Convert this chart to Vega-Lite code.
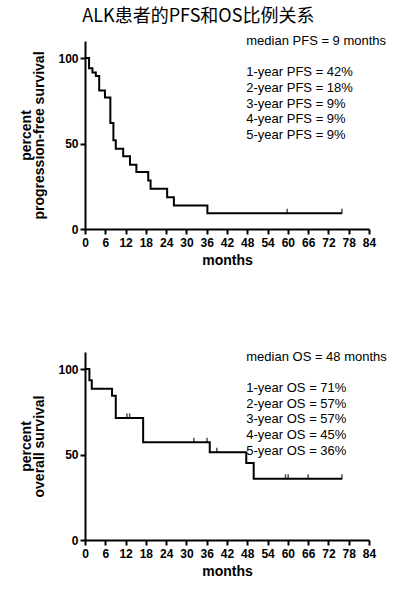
{
  "$schema": "https://vega.github.io/schema/vega-lite/v6.json",
  "description": "ALK patients PFS and OS Kaplan-Meier curves",
  "padding": {"left": 19, "top": 8, "right": 5, "bottom": 5},
  "title": {
    "text": "ALK患者的PFS和OS比例关系",
    "font": "Noto Sans CJK SC",
    "fontSize": 18,
    "fontWeight": "normal",
    "color": "black",
    "anchor": "middle",
    "dx": -5,
    "offset": 9
  },
  "datasets": {
    "pfs": [
      {"month": 0, "pct": 100},
      {"month": 1.2, "pct": 94},
      {"month": 2.2, "pct": 91.5},
      {"month": 3.2, "pct": 89.5},
      {"month": 4.2, "pct": 81},
      {"month": 5.9, "pct": 77},
      {"month": 7.5, "pct": 62},
      {"month": 8.4, "pct": 52},
      {"month": 9.1, "pct": 47},
      {"month": 11.3, "pct": 42.5},
      {"month": 13.3, "pct": 37.6},
      {"month": 15.2, "pct": 33.3},
      {"month": 18.7, "pct": 28.4},
      {"month": 19.4, "pct": 23.5},
      {"month": 24.3, "pct": 18.6},
      {"month": 26.3, "pct": 13.7},
      {"month": 36.2, "pct": 9.2},
      {"month": 76, "pct": 9.2}
    ],
    "pfs_censor": [
      {"month": 59.8, "pct": 9.2},
      {"month": 76, "pct": 9.2}
    ],
    "pfs_text": [
      {"line": 0, "label": "median PFS = 9 months"},
      {"line": 2, "label": "1-year PFS = 42%"},
      {"line": 3, "label": "2-year PFS = 18%"},
      {"line": 4, "label": "3-year PFS = 9%"},
      {"line": 5, "label": "4-year PFS = 9%"},
      {"line": 6, "label": "5-year PFS = 9%"}
    ],
    "os": [
      {"month": 0, "pct": 100},
      {"month": 1.3, "pct": 93.5},
      {"month": 2.0, "pct": 88.5},
      {"month": 8.0, "pct": 84.4},
      {"month": 9.1, "pct": 71.4},
      {"month": 17.2, "pct": 57.2},
      {"month": 36.9, "pct": 51.4},
      {"month": 47.7, "pct": 45.1},
      {"month": 49.9, "pct": 35.8},
      {"month": 76, "pct": 35.8}
    ],
    "os_censor": [
      {"month": 12.4, "pct": 71.4},
      {"month": 13.2, "pct": 71.4},
      {"month": 32.2, "pct": 57.2},
      {"month": 36.1, "pct": 57.2},
      {"month": 39, "pct": 51.4},
      {"month": 59.3, "pct": 35.8},
      {"month": 60.1, "pct": 35.8},
      {"month": 66, "pct": 35.8},
      {"month": 76, "pct": 35.8}
    ],
    "os_text": [
      {"line": 0, "label": "median OS = 48 months"},
      {"line": 2, "label": "1-year OS = 71%"},
      {"line": 3, "label": "2-year OS = 57%"},
      {"line": 4, "label": "3-year OS = 57%"},
      {"line": 5, "label": "4-year OS = 45%"},
      {"line": 6, "label": "5-year OS = 36%"}
    ]
  },
  "spacing": 83,
  "vconcat": [
    {
      "width": 284,
      "height": 188,
      "layer": [
        {
          "layer": [
            {
              "data": {"name": "pfs"},
              "mark": {"type": "line", "interpolate": "step-after", "color": "black", "strokeWidth": 2},
              "encoding": {
                "x": {
                  "field": "month", "type": "quantitative",
                  "scale": {"domain": [0, 84], "nice": false, "zero": true},
                  "axis": {"values": [0, 6, 12, 18, 24, 30, 36, 42, 48, 54, 60, 66, 72, 78, 84], "tickCount": 20, "labelOverlap": false, "title": "months"}
                },
                "y": {
                  "field": "pct", "type": "quantitative",
                  "scale": {"domain": [0, 110], "nice": false},
                  "axis": {"values": [0, 50, 100], "title": ["percent", "progression-free survival"]}
                }
              }
            },
            {
              "data": {"name": "pfs_censor"},
              "mark": {"type": "tick", "orient": "vertical", "size": 5, "thickness": 1.5, "color": "black", "yOffset": -2},
              "encoding": {
                "x": {"field": "month", "type": "quantitative"},
                "y": {"field": "pct", "type": "quantitative"}
              }
            }
          ]
        },
        {
          "data": {"name": "pfs_text"},
          "mark": {"type": "text", "align": "left", "baseline": "middle", "font": "Liberation Sans", "fontSize": 13, "color": "black"},
          "encoding": {
            "x": {"datum": 47.7, "type": "quantitative"},
            "y": {"field": "line", "type": "quantitative", "scale": {"domain": [0, 12], "reverse": true, "nice": false, "zero": false}, "axis": null},
            "text": {"field": "label"}
          }
        }
      ],
      "resolve": {"scale": {"y": "independent"}}
    },
    {
      "width": 284,
      "height": 188,
      "layer": [
        {
          "layer": [
            {
              "data": {"name": "os"},
              "mark": {"type": "line", "interpolate": "step-after", "color": "black", "strokeWidth": 2},
              "encoding": {
                "x": {
                  "field": "month", "type": "quantitative",
                  "scale": {"domain": [0, 84], "nice": false, "zero": true},
                  "axis": {"values": [0, 6, 12, 18, 24, 30, 36, 42, 48, 54, 60, 66, 72, 78, 84], "tickCount": 20, "labelOverlap": false, "title": "months"}
                },
                "y": {
                  "field": "pct", "type": "quantitative",
                  "scale": {"domain": [0, 110], "nice": false},
                  "axis": {"values": [0, 50, 100], "title": ["percent", "overall survival"]}
                }
              }
            },
            {
              "data": {"name": "os_censor"},
              "mark": {"type": "tick", "orient": "vertical", "size": 5, "thickness": 1.5, "color": "black", "yOffset": -2},
              "encoding": {
                "x": {"field": "month", "type": "quantitative"},
                "y": {"field": "pct", "type": "quantitative"}
              }
            }
          ]
        },
        {
          "data": {"name": "os_text"},
          "mark": {"type": "text", "align": "left", "baseline": "middle", "font": "Liberation Sans", "fontSize": 13, "color": "black"},
          "encoding": {
            "x": {"datum": 47.7, "type": "quantitative"},
            "y": {"field": "line", "type": "quantitative", "scale": {"domain": [-0.3, 11.7], "reverse": true, "nice": false, "zero": false}, "axis": null},
            "text": {"field": "label"}
          }
        }
      ],
      "resolve": {"scale": {"y": "independent"}}
    }
  ],
  "config": {
    "view": {"stroke": null},
    "axis": {
      "grid": false,
      "domainColor": "black",
      "domainWidth": 2,
      "tickColor": "black",
      "tickWidth": 2,
      "tickSize": 5,
      "labelFont": "Liberation Sans",
      "labelFontWeight": "bold",
      "labelFontSize": 12,
      "labelColor": "black",
      "titleFont": "Liberation Sans",
      "titleFontWeight": "bold",
      "titleFontSize": 14,
      "titleColor": "black",
      "titleLineHeight": 13
    },
    "axisX": {"labelPadding": 3, "titlePadding": 5, "labelFlush": false, "labelFontSize": 12},
    "axisY": {"labelPadding": 2, "titlePadding": 11}
  }
}
